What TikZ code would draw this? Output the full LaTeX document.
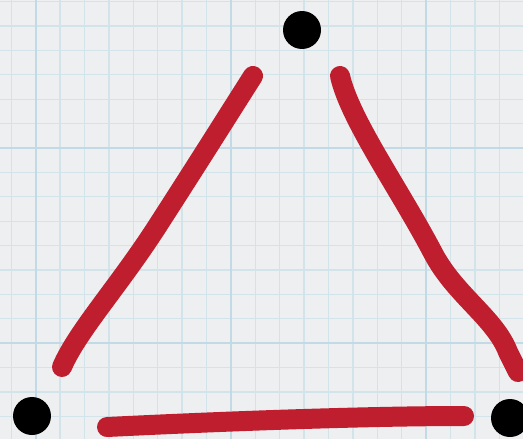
\documentclass[tikz,border=0pt]{standalone}
\usepackage{tikz}
\definecolor{paper}{HTML}{EDEFF1}
\definecolor{gridminor}{HTML}{D2E3EA}
\definecolor{gridmajor}{HTML}{C2DAE5}
\definecolor{marker}{HTML}{BE1E2D}

\begin{document}
\begin{tikzpicture}[x=0.02cm,y=-0.02cm,
  dot/.style={circle,fill=black,inner sep=0pt,minimum size=0.76cm},
  stroke/.style={marker,line width=0.4cm,line cap=round,line join=round}]
\useasboundingbox (0,0) rectangle (523,439);
\clip (0,0) rectangle (523,439);
\fill[paper] (0,0) rectangle (523,439);
% graph paper
\foreach \k in {0,...,21} {
  \draw[gridminor,line width=0.7pt] ({11.3+24.4*\k},0) -- ({11.3+24.4*\k},439);
}
\foreach \k in {0,...,18} {
  \draw[gridminor,line width=0.7pt] (0,{1.6+24.4*\k}) -- (523,{1.6+24.4*\k});
}
\foreach \x in {35.7,230.9,426.1} \draw[gridmajor,line width=1.2pt] (\x,0) -- (\x,439);
\foreach \y in {148,343.2} \draw[gridmajor,line width=1.2pt] (0,\y) -- (523,\y);
% the three points
\node[dot] (vtop) at (302,30) {};
\node[dot] (vleft) at (32,416) {};
\node[dot] (vright) at (510,418) {};
% ends of the marker strokes
\coordinate (l0) at (253,76);
\coordinate (l1) at (62,367);
\coordinate (r0) at (340,76);
\coordinate (r1) at (518,372);
\coordinate (b0) at (107,427);
\coordinate (b1) at (464,416);
\draw[stroke] (l0) .. controls (244,90) and (200,160) .. (160,222) .. controls (120,285) and (78,330) .. (l1);
\draw[stroke] (r0) .. controls (350,120) and (400,190) .. (433,253) .. controls (455,295) and (495,318) .. (508,352) .. controls (512,360) .. (r1);
\draw[stroke] (b0) .. controls (250,420) and (380,416) .. (b1);
\end{tikzpicture}
\end{document}
